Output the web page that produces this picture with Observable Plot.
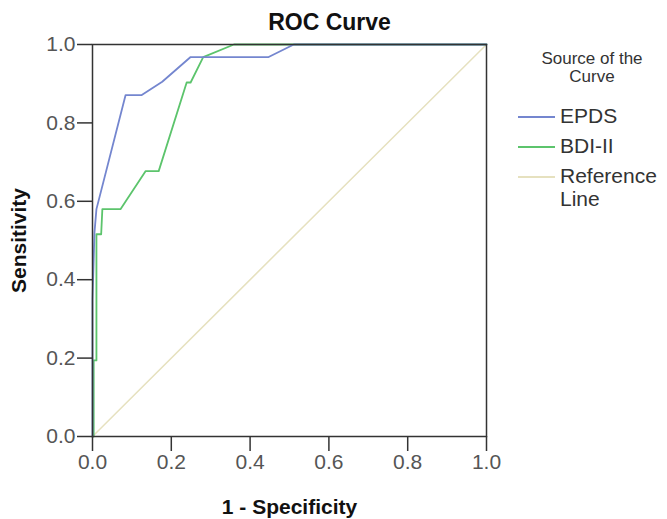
<!DOCTYPE html>
<html>
<head>
<meta charset="utf-8">
<script src="https://cdn.jsdelivr.net/npm/d3@7"></script>
<script src="https://cdn.jsdelivr.net/npm/@observablehq/plot@0.6"></script>
<style>
  html, body { margin: 0; padding: 0; background: #fff; }
  #wrap { position: relative; width: 667px; height: 519px; font-family: "Liberation Sans", Arial, sans-serif; }
  #title { position: absolute; left: -4px; width: 667px; top: 9px; text-align: center; font-weight: bold; font-size: 23px; color: #111; }
  #legend { position: absolute; left: 505px; top: 50px; width: 162px; color: #222; }
  #legend .head { text-align: center; font-size: 17px; line-height: 18px; margin-left: 12px; color: #333; }
  .item { position: relative; height: 30px; font-size: 21px; }
  .item .sw { position: absolute; left: 13px; width: 37px; top: 0; height: 0; border-top: 2px solid; }
  .item .lb { position: absolute; left: 55px; top: -12px; line-height: 23px; color: #333; }
</style>
</head>
<body>
<div id="wrap">
  <div id="title">ROC Curve</div>
  <div id="chart"></div>
  <div id="legend"></div>
</div>
<script>
const seriesNames = ["EPDS", "BDI-II", "Reference Line"];
const seriesColors = ["#7486cf", "#5cc46c", "#e6e1bf"];

const epdsFPR = [0, 0, 0.005, 0.01, 0.084, 0.125, 0.177, 0.249, 0.447, 0.511, 1];
const epdsTPR = [0, 0.35, 0.52, 0.58, 0.871, 0.871, 0.905, 0.968, 0.968, 1, 1];

const bdiFPR = [0, 0.003, 0.003, 0.01, 0.01, 0.022, 0.025, 0.071, 0.135, 0.168, 0.239, 0.249, 0.281, 0.359, 1];
const bdiTPR = [0, 0, 0.194, 0.194, 0.516, 0.516, 0.58, 0.58, 0.677, 0.677, 0.903, 0.903, 0.968, 1, 1];

const refFPR = [0, 1];
const refTPR = [0, 1];

const tickValues = [0, 0.2, 0.4, 0.6, 0.8, 1.0];

const toRows = (xs, ys, name) => xs.map((x, i) => ({x, y: ys[i], series: name}));
const rows = [
  ...toRows(refFPR, refTPR, seriesNames[2]),
  ...toRows(bdiFPR, bdiTPR, seriesNames[1]),
  ...toRows(epdsFPR, epdsTPR, seriesNames[0])
];

const chart = Plot.plot({
  width: 667,
  height: 519,
  marginLeft: 92,
  marginRight: 181,
  marginTop: 44,
  marginBottom: 83,
  style: { fontFamily: "Liberation Sans, Arial, sans-serif", background: "transparent" },
  x: { domain: [0, 1] },
  y: { domain: [0, 1] },
  color: { domain: seriesNames, range: seriesColors },
  marks: [
    Plot.line(rows.filter(d => d.series === seriesNames[2]), {x: "x", y: "y", stroke: "series", strokeWidth: 1.5}),
    Plot.line(rows.filter(d => d.series === seriesNames[1]), {x: "x", y: "y", stroke: "series", strokeWidth: 1.8}),
    Plot.line(rows.filter(d => d.series === seriesNames[0]), {x: "x", y: "y", stroke: "series", strokeWidth: 1.8}),
    Plot.frame({stroke: "#333", strokeWidth: 1.5}),
    Plot.axisX({ticks: tickValues, tickFormat: d3.format(".1f"), tickSize: 15, tickPadding: 3,
      fontSize: 21, color: "#555", stroke: "#333", strokeWidth: 1.5,
      label: "1 - Specificity", labelAnchor: "center", labelArrow: "none", labelOffset: 77}),
    Plot.axisY({ticks: tickValues, tickFormat: d3.format(".1f"), tickSize: 15, tickPadding: 2,
      fontSize: 21, color: "#555", stroke: "#333", strokeWidth: 1.5,
      label: "Sensitivity", labelAnchor: "center", labelArrow: "none", labelOffset: 81})
  ]
});
document.getElementById("chart").appendChild(chart);

// style axis labels bold/black
chart.querySelectorAll("g[aria-label='x-axis label'] text, g[aria-label='y-axis label'] text").forEach(t => {
  t.setAttribute("font-weight", "bold");
  t.setAttribute("fill", "#111");
  t.setAttribute("font-size", "21");
});

// legend
const legend = document.getElementById("legend");
const head = document.createElement("div");
head.className = "head";
head.innerHTML = "Source of the<br>Curve";
head.style.marginBottom = "30px";
legend.appendChild(head);
seriesNames.forEach((name, i) => {
  const item = document.createElement("div");
  item.className = "item";
  const sw = document.createElement("div");
  sw.className = "sw";
  sw.style.borderColor = seriesColors[i];
  const lb = document.createElement("div");
  lb.className = "lb";
  lb.innerHTML = name === "Reference Line" ? "Reference<br>Line" : name;
  item.appendChild(sw);
  item.appendChild(lb);
  legend.appendChild(item);
});
</script>
</body>
</html>
